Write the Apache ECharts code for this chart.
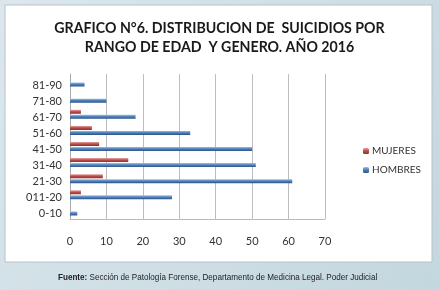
<!DOCTYPE html>
<html>
<head>
<meta charset="utf-8">
<script src="https://cdn.jsdelivr.net/npm/echarts@6/dist/echarts.min.js"></script>
<style>
  html, body { margin: 0; padding: 0; }
  #main { width: 439px; height: 290px; }
</style>
</head>
<body>
<div id="main"></div>
<script>
// data
var rangos = ['0-10', '011-20', '21-30', '31-40', '41-50', '51-60', '61-70', '71-80', '81-90'];
var hombres = [2, 28, 61, 51, 50, 33, 18, 10, 4];
var mujeres = [0, 3, 9, 16, 8, 6, 3, 0, 0];
var ticksX = [0, 10, 20, 30, 40, 50, 60, 70];

var chartDom = document.getElementById('main');
var myChart = echarts.init(chartDom);
var option;

function cyl(c1, c2, c3) {
  return new echarts.graphic.LinearGradient(0, 0, 0, 1, [
    { offset: 0, color: c1 },
    { offset: 0.45, color: c2 },
    { offset: 1, color: c3 }
  ]);
}

option = {
  backgroundColor: new echarts.graphic.LinearGradient(0, 0, 1, 1, [
    { offset: 0, color: '#dbe7ec' },
    { offset: 1, color: '#c3d7df' }
  ]),
  textStyle: { fontFamily: 'Lato' },
  graphic: [
    {
      type: 'rect', z: -1,
      shape: { x: 5, y: 5, width: 427, height: 257 },
      style: { fill: '#ffffff', stroke: '#b8c2c6', lineWidth: 1 }
    },
    {
      type: 'text', x: 58, y: 273, scaleX: 0.9,
      style: {
        text: '{b|Fuente:} Sección de Patología Forense, Departamento de Medicina Legal. Poder Judicial',
        fontFamily: 'Liberation Sans', fontSize: 9, fill: '#222',
        rich: { b: { fontWeight: 'bold', fontFamily: 'Liberation Sans', fontSize: 9 } }
      }
    }
  ],
  title: {
    text: 'GRAFICO N°6. DISTRIBUCION DE  SUICIDIOS POR\nRANGO DE EDAD  Y GENERO. AÑO 2016',
    left: 'center',
    top: 14,
    textStyle: { fontFamily: 'Lato', fontWeight: 'bold', fontSize: 14.2, lineHeight: 19, color: '#1a1a1a' }
  },
  legend: {
    orient: 'vertical',
    left: 358,
    top: 141,
    itemWidth: 6,
    itemHeight: 6,
    itemGap: 9,
    data: ['MUJERES', 'HOMBRES'],
    textStyle: { fontSize: 10, color: '#333', padding: [0, 0, 0, -2] }
  },
  grid: { left: 70, right: 114, top: 74, bottom: 71 },
  xAxis: {
    type: 'value',
    min: 0,
    max: 70,
    interval: 10,
    axisLine: { show: true, lineStyle: { color: '#bbbbbb' } },
    axisTick: { show: false },
    splitLine: { lineStyle: { color: '#bdbdbd' } },
    axisLabel: { margin: 17, fontSize: 11, color: '#333',
      formatter: function (v) { return ticksX.indexOf(v) >= 0 ? v : ''; } }
  },
  yAxis: {
    type: 'category',
    data: rangos,
    axisLine: { lineStyle: { color: '#aaaaaa' } },
    axisTick: { show: false },
    axisLabel: { fontSize: 11, color: '#333', margin: 8, verticalAlign: 'top', lineHeight: 6 }
  },
  series: [
    {
      name: 'MUJERES',
      type: 'bar',
      data: mujeres,
      barWidth: 4,
      barGap: '25%',
      itemStyle: { color: cyl('#e6a3a1', '#c0504d', '#8a2f2c') }
    },
    {
      name: 'HOMBRES',
      type: 'bar',
      data: hombres,
      barWidth: 4,
      itemStyle: { color: cyl('#9fc0e8', '#4f81bd', '#2f5487') }
    }
  ]
};

if (option && typeof option === 'object') {
  myChart.setOption(option);
}
window.addEventListener('resize', myChart.resize);
</script>
</body>
</html>
